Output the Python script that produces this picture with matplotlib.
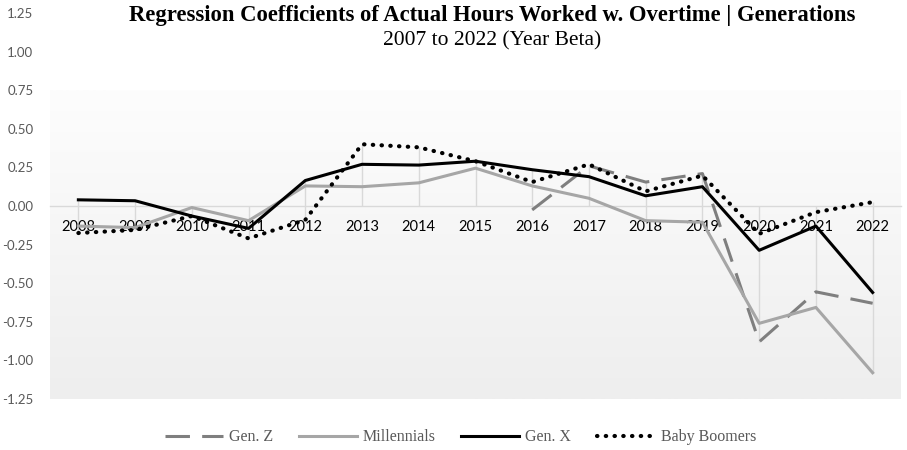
import numpy as np
import matplotlib
matplotlib.use("Agg")
import matplotlib.pyplot as plt
from matplotlib.colors import LinearSegmentedColormap

years = [str(y) for y in range(2008, 2023)]

gen_z = [np.nan] * 8 + [-0.025, 0.26, 0.155, 0.21, -0.88, -0.556, -0.63]
millennials = [-0.13, -0.14, -0.01, -0.095, 0.13, 0.125, 0.15, 0.245,
               0.13, 0.05, -0.095, -0.105, -0.76, -0.657, -1.08]
gen_x = [0.04, 0.034, -0.065, -0.145, 0.165, 0.27, 0.265, 0.29,
         0.235, 0.19, 0.066, 0.125, -0.287, -0.13, -0.56]
boomers = [-0.175, -0.155, -0.065, -0.21, -0.09, 0.40, 0.38, 0.29,
           0.155, 0.27, 0.095, 0.197, -0.18, -0.04, 0.025]

yticks = [1.25, 1.00, 0.75, 0.50, 0.25, 0.00, -0.25, -0.50, -0.75, -1.00, -1.25]

serif = ["Liberation Serif", "DejaVu Serif"]
sans = ["Lato", "DejaVu Sans"]

fig = plt.figure(figsize=(9.07, 4.5), dpi=100)
ax = fig.add_axes([50 / 907, 1 - 399 / 450, 851 / 907, 386 / 450])

x = np.arange(len(years))
ax.set_xlim(-0.5, len(years) - 0.5)

# shaded plot area: light grey gradient from 0.75 down to the bottom
cmap = LinearSegmentedColormap.from_list("bg", ["#eeeeee", "#fdfdfd"])
grad = np.linspace(0, 1, 256).reshape(-1, 1)
ax.imshow(grad, cmap=cmap, aspect="auto", extent=[-0.5, len(years) - 0.5, -1.25, 0.75],
          zorder=0, origin="lower")
ax.set_ylim(-1.25, 1.25)

# drop lines from the extreme values to the axis
allv = np.array([gen_z, millennials, gen_x, boomers], dtype=float)
hi = np.maximum(np.nanmax(allv, axis=0), 0)
lo = np.minimum(np.nanmin(allv, axis=0), 0)
ax.vlines(x, lo, hi, color="#d9d9d9", lw=1, zorder=1)

lw = 2.2
ax.plot(x, gen_z, color="#7f7f7f", lw=lw, dashes=(8, 4), label="Gen. Z", zorder=3)
ax.plot(x, millennials, color="#a6a6a6", lw=lw, label="Millennials", zorder=3)
ax.plot(x, gen_x, color="#000000", lw=lw, label="Gen. X", zorder=4)
ax.plot(x, boomers, color="#000000", lw=3.0, linestyle=(0, (0.1, 2.0)),
        dash_capstyle="round", label="Baby Boomers", zorder=5)

for s in ["top", "left", "right"]:
    ax.spines[s].set_visible(False)
ax.spines["bottom"].set_position(("data", 0))
ax.spines["bottom"].set_color("#d9d9d9")
ax.spines["bottom"].set_linewidth(1)

ax.set_xticks(x)
ax.set_xticklabels(years, family=sans, fontsize=10.5, color="#000000")
ax.set_yticks(yticks)
ax.set_yticklabels([f"{v:.2f}" for v in yticks], family=sans, fontsize=9.5, color="#595959")
ax.tick_params(axis="x", length=0, pad=10)
ax.tick_params(axis="y", length=0, pad=12)

fig.text(0.543, 0.965, "Regression Coefficients of Actual Hours Worked w. Overtime | Generations",
         family=serif, fontsize=16.3, fontweight="bold", ha="center", va="center")
fig.text(0.543, 0.91, "2007 to 2022 (Year Beta)", family=serif, fontsize=15.5,
         ha="center", va="center")

leg = fig.legend(loc="center", bbox_to_anchor=(0.508, 0.028), ncol=4, frameon=False,
                 prop={"family": serif, "size": 11.5}, handlelength=3.6,
                 columnspacing=1.6, handletextpad=0.4)
for t in leg.get_texts():
    t.set_color("#595959")

fig.savefig("out.png", dpi=100)
